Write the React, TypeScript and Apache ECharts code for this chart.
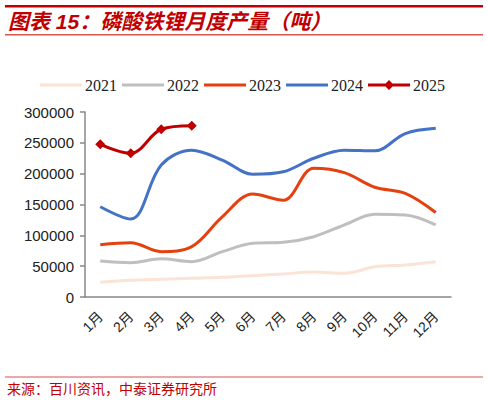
import { useEffect, useRef } from 'react'
import * as echarts from 'echarts'

const months = ['1月', '2月', '3月', '4月', '5月', '6月', '7月', '8月', '9月', '10月', '11月', '12月']

const y2021 = [23800, 27000, 28700, 30300, 31900, 34600, 37300, 40500, 38400, 49000, 51900, 57300]
const y2022 = [58400, 55700, 62000, 57300, 73500, 87000, 88600, 97800, 116800, 134000, 133000, 116800]
const y2023 = [84800, 88000, 73500, 81600, 130000, 167000, 157000, 208700, 201600, 178000, 168000, 137000]
const y2024 = [146400, 126500, 214000, 238000, 222000, 199000, 203000, 225000, 238000, 237000, 265000, 273500]
const y2025 = [247600, 233000, 272000, 277800]

const RED = '#C00000'

// legend icons, 42x14 box: plain line, and line with a diamond
const LINE_ICON = 'path://M0,0 L0.01,0 M42,14 L41.99,14 M0,5.6 H42 V8.4 H0 Z'
const DIAMOND_ICON = 'path://M0,0 L0.01,0 M42,14 L41.99,14 M0,5.6 H42 V8.4 H0 Z M21,2 L26,7 L21,12 L16,7 Z'

export default function App() {
  const ref = useRef<HTMLDivElement | null>(null)

  useEffect(() => {
    if (!ref.current) return
    document.body.style.margin = '0'
    const chart = echarts.init(ref.current, null, { renderer: 'svg' })

    const line = (name: string, data: number[], color: string, width = 3) => ({
      name,
      type: 'line',
      data,
      smooth: 0.35,
      symbol: 'none',
      lineStyle: { color, width },
      itemStyle: { color }
    })

    chart.setOption({
      animation: false,
      backgroundColor: '#fff',
      textStyle: { fontFamily: 'Liberation Sans, Noto Sans CJK SC' },
      legend: {
        left: 35,
        top: 72,
        itemWidth: 42,
        itemHeight: 14,
        itemGap: 5,
        textStyle: { fontFamily: 'Liberation Serif', fontSize: 16, color: '#222', padding: [0, 0, 0, -2] },
        data: [
          { name: '2021', icon: LINE_ICON },
          { name: '2022', icon: LINE_ICON },
          { name: '2023', icon: LINE_ICON },
          { name: '2024', icon: LINE_ICON },
          { name: '2025', icon: DIAMOND_ICON }
        ]
      },
      grid: { left: 85, right: 37, top: 112, bottom: 103, containLabel: false },
      xAxis: {
        type: 'category',
        data: months,
        boundaryGap: true,
        axisLine: { lineStyle: { color: '#888', width: 1.5 } },
        axisTick: { length: 5, lineStyle: { color: '#888', width: 1.5 } },
        axisLabel: {
          rotate: 45,
          margin: 17,
          fontSize: 14,
          color: '#222',
          fontFamily: 'Liberation Sans, Noto Sans CJK SC'
        }
      },
      yAxis: {
        type: 'value',
        min: 0,
        max: 300000,
        interval: 50000,
        splitLine: { show: false },
        axisLine: { show: true, lineStyle: { color: '#888', width: 1.5 } },
        axisTick: { show: true, length: 5, lineStyle: { color: '#888', width: 1.5 } },
        axisLabel: { fontSize: 15, color: '#222', margin: 11, formatter: (v: number) => String(v) }
      },
      graphic: [
        { type: 'rect', shape: { x: 5, y: 5, width: 478, height: 2.5 }, style: { fill: RED } },
        {
          type: 'text',
          x: 8,
          y: 21,
          style: {
            text: '图表 15：磷酸铁锂月度产量（吨）',
            fill: RED,
            font: 'italic bold 21px "Liberation Sans", "Noto Sans CJK SC"',
            verticalAlign: 'middle'
          }
        },
        { type: 'rect', shape: { x: 5, y: 34, width: 478, height: 1.5 }, style: { fill: '#D9534F' } },
        { type: 'rect', shape: { x: 5, y: 376.5, width: 478, height: 1 }, style: { fill: '#D9534F' } },
        {
          type: 'text',
          x: 7,
          y: 388,
          style: {
            text: '来源：百川资讯，中泰证券研究所',
            fill: RED,
            font: '14px "Noto Sans CJK SC"',
            verticalAlign: 'middle'
          }
        }
      ],
      series: [
        line('2021', y2021, '#FBE3D6'),
        line('2022', y2022, '#BFBFBF'),
        line('2023', y2023, '#E5400F'),
        line('2024', y2024, '#4472C4'),
        {
          name: '2025',
          type: 'line',
          data: y2025,
          smooth: 0.35,
          symbol: 'diamond',
          symbolSize: 10,
          lineStyle: { color: RED, width: 3 },
          itemStyle: { color: RED }
        }
      ]
    })

    return () => chart.dispose()
  }, [])

  return <div ref={ref} style={{ width: 488, height: 400 }} />
}
